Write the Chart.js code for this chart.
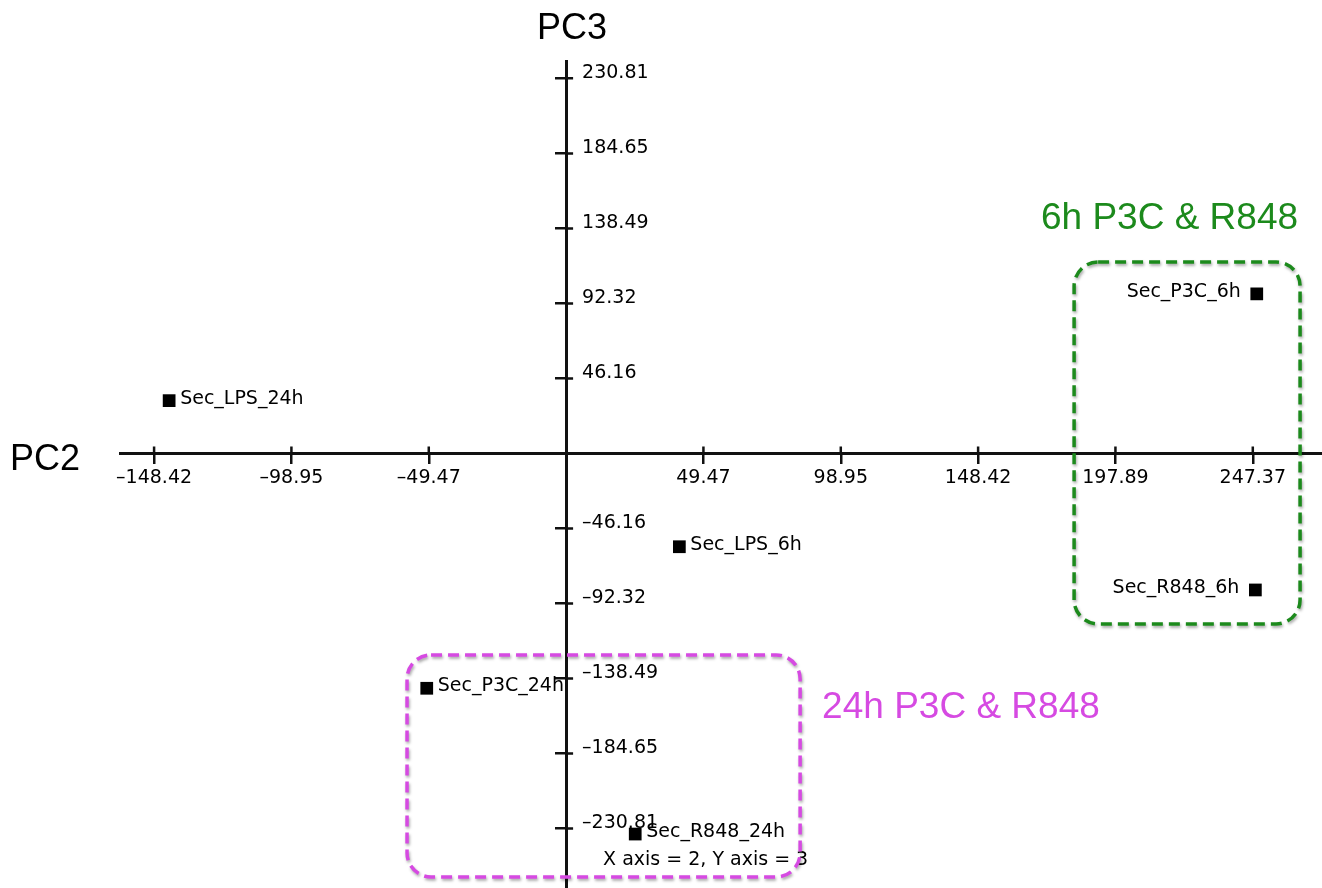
<!DOCTYPE html>
<html>
<head>
<meta charset="utf-8">
<script src="https://cdn.jsdelivr.net/npm/chart.js@4/dist/chart.umd.min.js"></script>
<style>
  html, body { margin: 0; padding: 0; background: #fff; }
  canvas { display: block; }
</style>
</head>
<body>
<canvas id="pcaChart" width="1322" height="888"></canvas>
<script>
// sample names and their PC scores
const samples = ["Sec_LPS_24h", "Sec_LPS_6h", "Sec_P3C_24h", "Sec_R848_24h", "Sec_P3C_6h", "Sec_R848_6h"];
const pc2 = [-143.0, 40.8, -50.2, 24.9, 248.8, 248.3];
const pc3 = [32.5, -57.4, -144.5, -234.2, 98.2, -84.0];

const xTicks = [-148.42, -98.95, -49.47, 49.47, 98.95, 148.42, 197.89, 247.37];
const yTicks = [-230.81, -184.65, -138.49, -92.32, -46.16, 46.16, 92.32, 138.49, 184.65, 230.81];

// highlighted groups (in PC units)
const groups = [
  { label: "6h P3C & R848", color: "#1c8a1c", x0: 183.0, x1: 264.4, y0: 117.8, y1: -104.9, text: "above" },
  { label: "24h P3C & R848", color: "#d64ae2", x0: -57.3, x1: 84.3, y0: -124.0, y1: -260.6, text: "right" }
];

const fmt = v => (v < 0 ? "\u2013" : "") + Math.abs(v).toFixed(2);
const tickFont = '19px "DejaVu Sans"';

function roundBox(ctx, x, y, w, h, r) {
  ctx.beginPath();
  ctx.moveTo(x + r, y);
  ctx.lineTo(x + w - r, y);
  ctx.arcTo(x + w, y, x + w, y + r, r);
  ctx.lineTo(x + w, y + h - r);
  ctx.arcTo(x + w, y + h, x + w - r, y + h, r);
  ctx.lineTo(x + r, y + h);
  ctx.arcTo(x, y + h, x, y + h - r, r);
  ctx.lineTo(x, y + r);
  ctx.arcTo(x, y, x + r, y, r);
  ctx.closePath();
}

const overlay = {
  id: "overlay",
  afterDraw(chart) {
    const ctx = chart.ctx;
    const xs = chart.scales.x, ys = chart.scales.y;
    const ox = xs.getPixelForValue(0), oy = ys.getPixelForValue(0);

    ctx.save();
    // upper / right half of the crossing tick marks
    ctx.strokeStyle = "#111";
    ctx.lineWidth = 2.5;
    ctx.beginPath();
    xTicks.forEach(v => {
      const px = xs.getPixelForValue(v);
      ctx.moveTo(px, oy - 7);
      ctx.lineTo(px, oy + 1);
    });
    yTicks.forEach(v => {
      const py = ys.getPixelForValue(v);
      ctx.moveTo(ox - 1, py);
      ctx.lineTo(ox + 7, py);
    });
    ctx.stroke();

    // PC3 tick labels, right of the axis
    ctx.font = tickFont;
    ctx.fillStyle = "#000";
    ctx.textAlign = "left";
    ctx.textBaseline = "middle";
    yTicks.forEach(v => {
      ctx.fillText(fmt(v), ox + 16, ys.getPixelForValue(v) - 5);
    });

    // sample labels
    const meta = chart.getDatasetMeta(0);
    meta.data.forEach((pt, i) => {
      if (pc2[i] > 200) {
        ctx.textAlign = "right";
        ctx.fillText(samples[i], pt.x - 16, pt.y - 2);
      } else {
        ctx.textAlign = "left";
        ctx.fillText(samples[i], pt.x + 11, pt.y - 2);
      }
    });

    ctx.textAlign = "left";
    ctx.fillText("X axis = 2, Y axis = 3", ox + 37, ys.getPixelForValue(-250.4));

    // axis names
    ctx.font = '36px "Liberation Sans"';
    ctx.textAlign = "center";
    ctx.fillStyle = "#000";
    ctx.fillText("PC3", ox + 6, 29);
    ctx.fillText("PC2", 45, oy + 7);

    // dashed group boxes
    groups.forEach(g => {
      const x0 = xs.getPixelForValue(g.x0), x1 = xs.getPixelForValue(g.x1);
      const y0 = ys.getPixelForValue(g.y0), y1 = ys.getPixelForValue(g.y1);
      ctx.save();
      ctx.shadowColor = "rgba(0,0,0,0.35)";
      ctx.shadowBlur = 3;
      ctx.shadowOffsetX = 1;
      ctx.shadowOffsetY = 2;
      ctx.strokeStyle = g.color;
      ctx.lineWidth = 3.5;
      ctx.setLineDash([11, 6]);
      roundBox(ctx, x0, y0, x1 - x0, y1 - y0, 24);
      ctx.stroke();
      ctx.restore();

      ctx.fillStyle = g.color;
      ctx.font = '37px "Liberation Sans"';
      ctx.textBaseline = "middle";
      if (g.text === "above") {
        ctx.textAlign = "right";
        ctx.fillText(g.label, x1 - 2, y0 - 43);
      } else {
        ctx.textAlign = "left";
        ctx.fillText(g.label, x1 + 22, y0 + 53);
      }
    });
    ctx.restore();
  }
};

const chart = new Chart(document.getElementById("pcaChart"), {
  type: "scatter",
  data: {
    datasets: [{
      label: "samples",
      data: pc2.map((x, i) => ({ x, y: pc3[i] })),
      pointStyle: "rect",
      pointRadius: 9,
      pointHoverRadius: 9,
      backgroundColor: "#000",
      borderColor: "#000",
      borderWidth: 0
    }]
  },
  options: {
    responsive: false,
    animation: false,
    events: [],
    layout: { autoPadding: false, padding: { left: 120, top: 61, right: 0, bottom: 0 } },
    plugins: { legend: { display: false }, tooltip: { enabled: false } },
    scales: {
      x: {
        type: "linear",
        position: { y: 0 },
        min: -160.7,
        max: 272.3,
        afterBuildTicks: s => { s.ticks = xTicks.map(v => ({ value: v })); },
        afterFit: s => { s.paddingLeft = 0; s.paddingRight = 0; },
        ticks: {
          callback: v => fmt(v),
          font: { family: "DejaVu Sans", size: 19 },
          color: "#000",
          padding: 4,
          maxRotation: 0,
          autoSkip: false
        },
        grid: { drawOnChartArea: false, drawTicks: true, tickLength: 9, color: "#111", lineWidth: 2.5 },
        border: { display: true, color: "#111", width: 3 }
      },
      y: {
        type: "linear",
        position: { x: 0 },
        min: -267.4,
        max: 241.5,
        afterBuildTicks: s => { s.ticks = yTicks.map(v => ({ value: v })); },
        afterFit: s => { s.paddingTop = 0; s.paddingBottom = 0; },
        ticks: { display: false },
        grid: { drawOnChartArea: false, drawTicks: true, tickLength: 10, color: "#111", lineWidth: 2.5 },
        border: { display: true, color: "#111", width: 3 }
      }
    }
  },
  plugins: [overlay]
});
</script>
</body>
</html>
